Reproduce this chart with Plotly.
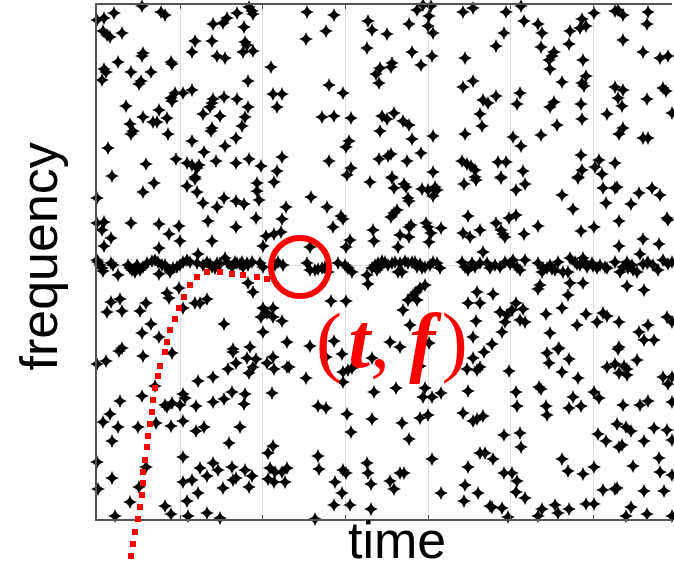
import plotly.graph_objects as go

# ---------------- data (time in arbitrary units 0..575, frequency offset -254..260) ----------------
# scattered background detections (time, frequency)
bg_pts = [
    (45,259),(17,252),(64,253),(68,250),(0,245),(7,247),(6,234),(10,230),(13,228),(25,232),(152,258),(155,254),
    (156,251),(140,252),(130,247),(126,242),(116,241),(147,238),(98,224),(115,224),(148,223),(150,220),(95,213),
    (146,213),(156,214),(120,209),(128,207),(46,212),(45,209),(21,203),(74,203),(75,201),(7,196),(9,193),(34,193),
    (54,193),(5,185),(44,184),(42,181),(151,184),(174,198),(78,172),(86,172),(95,175),(74,167),(75,164),(176,171),
    (185,171),(116,166),(115,162),(113,158),(127,168),(140,166),(29,159),(62,155),(151,158),(180,158),(106,151),
    (123,149),(148,148),(46,148),(70,147),(56,143),(60,143),(33,141),(36,134),(34,131),(115,137),(114,134),(145,139),
    (71,131),(139,127),(95,124),(128,119),(11,117),(107,113),(185,108),(79,106),(90,102),(95,100),(102,100),(100,97),
    (119,104),(139,102),(152,106),(49,101),(164,99),(180,94),(15,89),(98,88),
    (210,253),(237,250),(209,226),(229,234),(271,244),(275,235),(290,231),(312,241),(320,255),(326,260),(334,259),
    (332,249),(331,239),(336,232),(366,253),(376,257),(270,217),(315,213),(335,209),(368,207),(295,202),(294,198),
    (283,197),(279,191),(324,200),(282,182),(232,180),(246,172),(366,178),(376,184),(386,165),(225,148),(237,149),
    (254,147),(285,149),(290,146),(297,152),(306,144),(312,140),(283,134),(315,126),(336,129),(368,131),(383,151),
    (385,139),(252,124),(249,118),(232,104),(282,106),(291,109),(294,111),(310,104),(324,112),(365,104),(370,101),
    (374,99),(378,95),(254,97),(250,90),(295,88),(336,93),(378,88),
    (424,259),(409,253),(427,244),(407,232),(399,219),(441,241),(445,232),(444,218),(473,234),(472,221),(485,246),
    (483,237),(489,239),(497,252),(518,254),(521,255),(526,250),(551,253),(550,241),(526,225),(546,213),(563,207),
    (571,209),(457,213),(455,209),(452,205),(453,196),(486,205),(489,189),(485,182),(487,179),(465,183),(423,172),
    (420,161),(399,169),(391,162),(457,163),(453,158),(484,161),(518,178),(526,175),(521,167),(525,159),(550,166),
    (566,177),(569,174),(575,152),(510,151),(485,146),(460,140),(526,137),(522,131),(546,127),(551,127),(416,128),
    (444,130),(424,119),(484,110),(401,103),(409,103),(502,105),(498,98),(518,102),(485,95),(481,88),(426,94),
    (404,88),(505,91),
    (46,73),(57,82),(90,79),(98,86),(100,73),(0,67),(106,62),(120,58),(127,67),(139,64),(147,61),(162,65),(160,74),
    (160,82),(177,83),(189,58),(0,42),(7,43),(5,35),(14,27),(7,19),(34,42),(62,41),(82,39),(72,31),(83,24),(111,44),
    (139,38),(115,24),(159,47),(185,46),(169,29),(177,31),(184,33),(166,19),(62,17),(101,11),(21,-10),(62,-9),
    (151,-18),(156,-27),(70,-28),(72,-33),(82,-23),(14,-37),(23,-34),(10,-47),(25,-46),(49,-38),(43,-46),(98,-38),
    (103,-38),(110,-34),(86,-43),(166,-43),(164,-52),(170,-48),(176,-43),(176,-52),(54,-59),(45,-68),(62,-72),
    (127,-59),(166,-67),(185,-56),(190,-77),(25,-83),(136,-84),(153,-82),
    (273,83),(295,87),(297,77),(307,81),(309,78),(311,67),(312,64),(325,76),(331,75),(338,78),(340,75),(336,69),
    (367,81),(379,85),(214,68),(230,58),(244,49),(246,46),(236,38),(294,48),(297,52),(300,55),(314,40),(312,38),
    (276,35),(277,24),(303,30),(312,28),(329,42),(331,38),(334,32),(344,37),(332,23),(371,49),(366,32),(373,28),
    (383,35),(253,25),(249,18),(301,18),(213,18),(386,13),(271,-19),(328,-20),(323,-23),(319,-27),(316,-30),
    (311,-35),(320,-35),(306,-45),(234,-36),(249,-36),(380,-27),(371,-38),(383,-38),(379,-56),(237,-76),(213,-81),
    (293,-77),(303,-82),(332,-78),(376,-72),(313,-60),
    (404,87),(419,75),(428,81),(481,87),(465,70),(506,77),(518,77),(520,78),(509,62),(534,61),(542,72),(555,77),
    (563,70),(476,56),(399,42),(412,47),(419,50),(404,35),(406,31),(408,28),(427,31),(441,39),(484,34),(497,38),
    (522,44),(570,47),(571,45),(546,26),(562,21),(522,19),(543,11),(443,-20),(441,-24),(473,-18),(486,-18),
    (471,-30),(530,-21),(547,-25),(576,-30),(396,-29),(419,-38),(415,-45),(410,-50),(403,-47),(408,-57),(423,-55),
    (428,-57),(426,-44),(405,-67),(395,-79),(449,-49),(453,-68),(465,-43),(480,-60),(489,-49),(500,-57),(506,-48),
    (510,-51),(522,-57),(542,-67),(547,-75),(551,-60),(557,-75),(570,-52),(575,-57),(462,-83),(522,-82),
    (22,-86),(9,-96),(0,-99),(46,-91),(75,-88),(136,-87),(150,-93),(159,-94),(156,-102),(152,-108),(139,-98),
    (131,-104),(170,-98),(176,-92),(177,-104),(190,-102),(101,-116),(116,-112),(58,-121),(45,-131),(23,-136),
    (86,-129),(88,-133),(83,-140),(68,-140),(70,-142),(75,-138),(99,-141),(116,-137),(127,-134),(135,-127),
    (148,-129),(147,-139),(175,-128),(13,-149),(6,-157),(21,-162),(41,-162),(59,-158),(74,-161),(86,-156),(99,-166),
    (107,-162),(143,-162),(15,-176),(132,-178),(176,-181),(171,-188),(0,-197),(86,-192),(49,-202),(103,-203),
    (116,-198),(121,-205),(110,-211),(86,-217),(95,-215),(135,-202),(148,-205),(139,-213),(136,-215),(155,-211),
    (152,-222),(173,-203),(178,-207),(185,-207),(190,-203),(171,-214),(177,-217),(15,-213),(1,-224),(42,-222),
    (101,-228),(126,-223),(33,-237),(90,-236),(68,-241),(18,-251),(74,-249),(91,-251),(110,-248),(123,-253),
    (229,-92),(245,-89),(275,-93),(192,-102),(209,-113),(246,-107),(251,-105),(255,-103),(246,-117),(323,-101),
    (277,-127),(299,-123),(328,-123),(326,-132),(335,-132),(344,-128),(371,-126),(376,-93),(370,-104),(380,-105),
    (383,-102),(221,-141),(229,-143),(250,-149),(275,-154),(254,-167),(305,-158),(323,-153),(331,-150),(366,-148),
    (376,-156),(380,-154),(386,-151),(312,-174),(383,-188),(188,-217),(221,-191),(222,-204),(246,-205),(249,-208),
    (238,-217),(245,-228),(237,-240),(253,-240),(270,-198),(271,-208),(274,-219),(274,-244),(293,-216),(297,-224),
    (303,-208),(307,-208),(335,-194),(344,-228),(371,-202),(368,-220),(367,-236),(381,-228),(218,-254),
    (387,-87),(412,-106),(450,-88),(461,-84),(452,-98),(472,-94),(465,-107),(481,-113),(521,-84),(540,-95),
    (510,-102),(518,-99),(527,-101),(530,-104),(522,-108),(530,-110),(566,-112),(575,-112),(571,-119),(419,-127),
    (420,-141),(442,-122),(444,-124),(476,-132),(472,-143),(484,-141),(449,-141),(450,-150),(497,-127),(502,-133),
    (526,-140),(543,-140),(551,-136),(575,-137),(407,-170),(423,-168),(424,-182),(501,-169),(509,-176),(520,-159),
    (529,-162),(534,-166),(522,-182),(525,-180),(547,-176),(557,-163),(570,-165),(575,-175),(388,-188),(396,-194),
    (407,-208),(415,-208),(420,-216),(419,-227),(428,-233),(465,-194),(471,-206),(486,-209),(497,-202),(536,-201),
    (562,-193),(563,-207),(575,-210),(506,-225),(518,-224),(520,-223),(547,-226),(567,-226),(393,-241),(395,-242),
    (405,-243),(445,-244),(441,-251),(458,-240),(461,-248),(472,-244),(489,-239),(497,-239),(534,-242),(529,-251),
    (550,-249),(575,-251),(411,-252),
]

# detections of the persistent tone (the dense horizontal band)
band_pts = [
    (0,5),(3,0),(6,-6),(14,2),(16,0),(31,0),(35,-5),(40,0),(43,-5),(46,-2),(50,2),(55,4),(58,5),(61,3),(65,0),
    (70,-3),(73,-7),(83,0),(86,3),(90,5),(93,3),(106,0),(110,3),(113,1),(118,-3),(123,1),(128,7),(131,2),(135,-2),
    (140,2),(143,1),(146,-2),(150,2),(155,3),(163,2),(166,-2),(178,0),(181,3),(186,0),(33,-3),(38,-7),(41,-2),
    (1,3),(5,-3),(76,-3),(80,-2),(100,2),(115,-2),(120,2),(138,3),(145,3),(151,0),(68,0),
    (210,2),(213,-5),(218,-5),(221,-4),(225,-3),(228,-2),(231,-7),(241,2),(248,0),(251,-3),(255,-7),(270,-10),
    (275,-3),(278,0),(281,2),(285,4),(288,3),(291,0),(295,2),(298,3),(303,2),(305,-7),(308,4),(311,2),(315,3),
    (320,-2),(323,1),(328,-2),(333,0),(336,3),(340,2),(343,-3),(365,3),(368,-2),(371,-5),(375,2),(378,-2),(383,2),
    (283,-2),(280,-5),(301,-7),(318,3),(325,-3),
    (390,2),(393,-3),(398,0),(403,-2),(408,3),(413,1),(416,5),(420,-2),(423,-5),(428,5),(441,2),(445,-7),(450,-3),
    (453,0),(458,-5),(461,3),(466,-7),(471,-7),(473,7),(478,3),(483,0),(486,7),(490,-2),(495,2),(500,-3),(503,0),
    (508,-2),(518,3),(523,-7),(526,-2),(530,3),(535,0),(540,-7),(546,1),(551,3),(556,0),(561,-5),(566,5),(571,1),
    (575,3),(446,-3),(455,-4),(480,1),(488,3),(496,-1),(531,-3),(536,-5),(550,2),(510,-3),
]

# dotted trajectory approaching the tone (extends below the frequency axis)
traj_t = [34, 36, 38, 41, 43, 45, 46, 46, 48, 50, 51, 53, 55, 56, 58, 61, 63, 68, 70, 73, 78, 82, 87, 93,
          100, 110, 123, 135, 146, 160, 170]
traj_f = [-291, -279, -267, -254, -242, -230, -218, -207, -195, -182, -171, -159, -147, -135, -123, -111,
          -101, -87, -77, -65, -54, -43, -32, -20, -12, -7, -7, -9, -10, -12, -14]

# highlighted time-frequency point (t, f)
point_t = [203]
point_f = [-2]

# vertical grid positions (time)
grid_t = [83, 165, 248, 331, 413, 496]

# axis extents
t_range = [0, 575]
f_range = [-254, 260]
f_range_ext = [-298, 260]   # same scale, extended down to the page bottom

bg_t = [p[0] for p in bg_pts]
bg_f = [p[1] for p in bg_pts]
band_t = [p[0] for p in band_pts]
band_f = [p[1] for p in band_pts]

fig = go.Figure()

fig.add_trace(go.Scatter(
    x=bg_t + band_t, y=bg_f + band_f, mode="markers",
    marker=dict(symbol="star-diamond", size=10, color="black", line=dict(width=0)),
    hoverinfo="skip", showlegend=False, cliponaxis=False,
))

fig.add_trace(go.Scatter(
    x=traj_t, y=traj_f, mode="markers", xaxis="x2", yaxis="y2",
    marker=dict(symbol="square", size=6, color="#ff0000", line=dict(width=0)),
    hoverinfo="skip", showlegend=False,
))

fig.add_trace(go.Scatter(
    x=point_t, y=point_f, mode="markers",
    marker=dict(symbol="circle-open", size=58, color="#ff0000", line=dict(width=6, color="#ff0000")),
    hoverinfo="skip", showlegend=False, cliponaxis=False,
))

H = 563
plot_bottom_px = 519
top_margin = 5
paper_h = H - top_margin
main_bottom = (H - plot_bottom_px) / paper_h

fig.update_layout(
    width=674, height=H,
    margin=dict(l=97, r=2, t=top_margin, b=0),
    paper_bgcolor="white", plot_bgcolor="rgba(0,0,0,0)",
    xaxis=dict(
        range=t_range, tickvals=grid_t, showticklabels=False, domain=[0, 1], anchor="y",
        showgrid=True, gridcolor="#dddddd", gridwidth=1, zeroline=False,
        ticks="inside", ticklen=4, tickcolor="#555555", tickwidth=1,
        showline=True, linecolor="#555555", linewidth=2, mirror="ticks",
    ),
    yaxis=dict(
        range=f_range, tickvals=[0], showticklabels=False, domain=[main_bottom, 1], anchor="x",
        showgrid=True, gridcolor="#dddddd", gridwidth=1, zeroline=False,
        ticks="", showline=True, linecolor="#555555", linewidth=2, mirror=False,
    ),
    xaxis2=dict(range=t_range, domain=[0, 1], anchor="y2", visible=False),
    yaxis2=dict(range=f_range_ext, domain=[0, 1], anchor="x2", visible=False),
    annotations=[
        dict(text="time", xref="paper", yref="paper", x=(397 - 97) / 575, y=(H - 540) / paper_h,
             xanchor="center", yanchor="middle", showarrow=False, height=44,
             font=dict(family="Liberation Sans, Arial", size=52, color="black")),
        dict(text="frequency", xref="paper", yref="paper", x=(38 - 97) / 575, y=(H - 256.5) / paper_h,
             xanchor="center", yanchor="middle", textangle=-90, showarrow=False,
             font=dict(family="Liberation Sans, Arial", size=52, color="black")),
        dict(text="(\u200a<b><i>t</i></b>, <b><i>f</i></b>\u200a)", xref="x", yref="y", x=295, y=-75,
             xanchor="center", yanchor="middle", showarrow=False,
             font=dict(family="Liberation Serif, Times New Roman, serif", size=78, color="#ff0000")),
    ],
)

fig.write_html(
    "out.html",
    config={"displayModeBar": False},
    post_script="document.body.style.margin='0';document.body.style.overflow='hidden';",
)
